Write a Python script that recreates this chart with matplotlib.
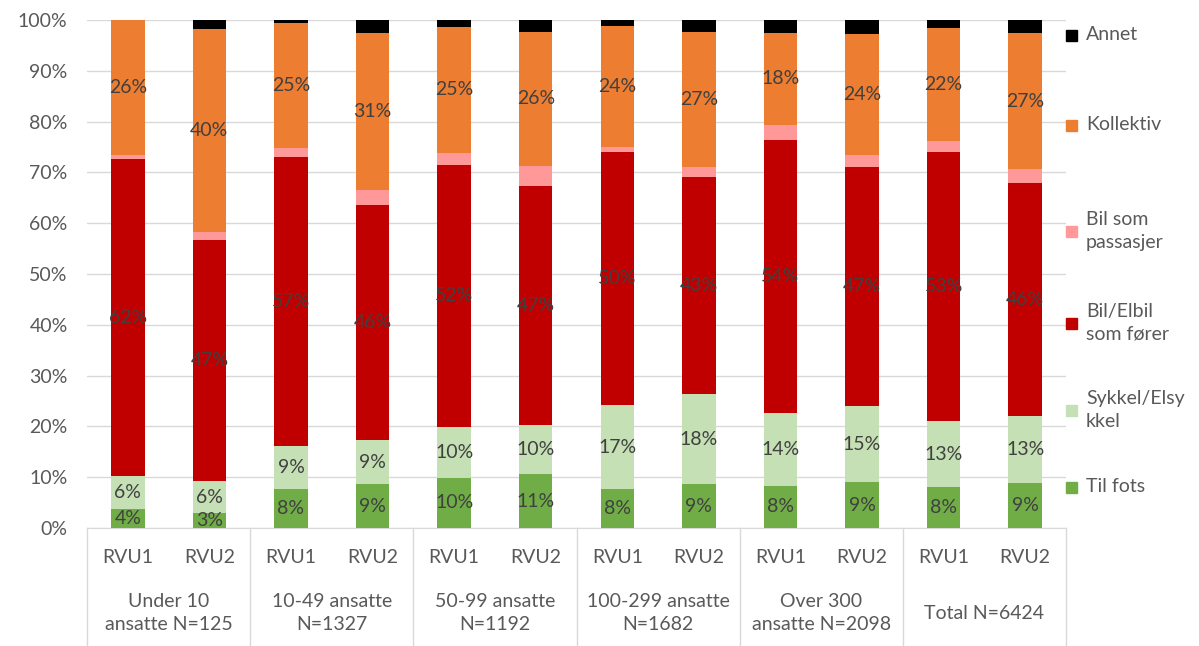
import numpy as np
import matplotlib.pyplot as plt
from matplotlib.lines import Line2D
from matplotlib.patches import Rectangle

plt.rcParams['font.family'] = ['Lato', 'DejaVu Sans']

groups = ['Under 10\nansatte N=125', '10-49 ansatte\nN=1327', '50-99 ansatte\nN=1192',
          '100-299 ansatte\nN=1682', 'Over 300\nansatte N=2098', 'Total N=6424']
waves = ['RVU1', 'RVU2']

til_fots = [3.8, 2.9, 7.6, 8.6, 9.9, 10.6, 7.6, 8.6, 8.3, 9.0, 8.1, 8.8]
sykkel = [6.4, 6.4, 8.6, 8.7, 10.0, 9.6, 16.6, 17.8, 14.4, 15.0, 12.9, 13.3]
forer = [62.4, 47.3, 56.9, 46.2, 51.6, 47.1, 49.9, 42.6, 53.7, 47.0, 53.1, 45.9]
passasjer = [0.9, 1.6, 1.7, 3.0, 2.4, 4.0, 0.9, 2.1, 2.9, 2.4, 2.0, 2.6]
kollektiv = [26.45, 40.0, 24.7, 31.0, 24.7, 26.3, 23.9, 26.6, 18.2, 23.9, 22.4, 26.9]
annet = [0.0, 1.8, 0.5, 2.5, 1.4, 2.4, 1.1, 2.3, 2.5, 2.7, 1.5, 2.5]

series = [('Til fots', til_fots, '#70AD47', True),
          ('Sykkel/Elsy\nkkel', sykkel, '#C5E0B4', True),
          ('Bil/Elbil\nsom fører', forer, '#C00000', True),
          ('Bil som\npassasjer', passasjer, '#FF9999', False),
          ('Kollektiv', kollektiv, '#ED7D31', True),
          ('Annet', annet, '#000000', False)]

fs = 14
fig = plt.figure(figsize=(11.99, 6.46), dpi=100)
ax = fig.add_axes([87 / 1199, 118 / 646, 979 / 1199, 508 / 646])

x = np.arange(len(til_fots))
bottom = np.zeros(len(x))
for name, vals, col, show in series:
    vals = np.array(vals)
    ax.bar(x, vals, 0.41, bottom=bottom, color=col, zorder=3)
    if show:
        for xi, b, v in zip(x, bottom, vals):
            ax.text(xi, b + v / 2, f'{v:.0f}%', ha='center', va='center',
                    fontsize=fs, color='#404040', zorder=4)
    bottom += vals

ax.set_xlim(-0.5, len(x) - 0.5)
ax.set_ylim(0, 100)
ax.set_yticks(np.arange(0, 101, 10))
ax.set_yticklabels([f'{t}%' for t in range(0, 101, 10)], fontsize=fs, color='#595959')
ax.yaxis.grid(True, color='#D9D9D9', linewidth=1, zorder=0)
ax.tick_params(axis='y', length=0, pad=14)
for s in ['left', 'right', 'top']:
    ax.spines[s].set_visible(False)
ax.spines['bottom'].set_color('#D9D9D9')

ax.set_xticks(x)
ax.set_xticklabels(waves * len(groups), fontsize=fs, color='#595959')
ax.tick_params(axis='x', length=0, pad=15)

# group labels and separators under the axis
trans = ax.get_xaxis_transform()
for i, g in enumerate(groups):
    ax.text(2 * i + 0.5, -0.168, g, transform=trans, ha='center', va='center',
            fontsize=fs, color='#595959', linespacing=1.45)
for k in range(len(groups) + 1):
    ax.add_line(Line2D([2 * k - 0.5, 2 * k - 0.5], [0, -0.235], transform=trans,
                       color='#D9D9D9', linewidth=1, clip_on=False))

# legend on the right
leg_y = [35, 125, 231, 323, 410, 487]
for (name, vals, col, show), yy in zip(series[::-1], leg_y):
    fig.patches.append(Rectangle((1066 / 1199, 1 - (yy + 6) / 646), 11 / 1199, 11 / 646,
                                 transform=fig.transFigure, color=col))
    fig.text(1086 / 1199, 1 - yy / 646, name, ha='left', va='center',
             fontsize=fs, color='#595959', linespacing=1.4)

fig.savefig('out.png', dpi=100)
